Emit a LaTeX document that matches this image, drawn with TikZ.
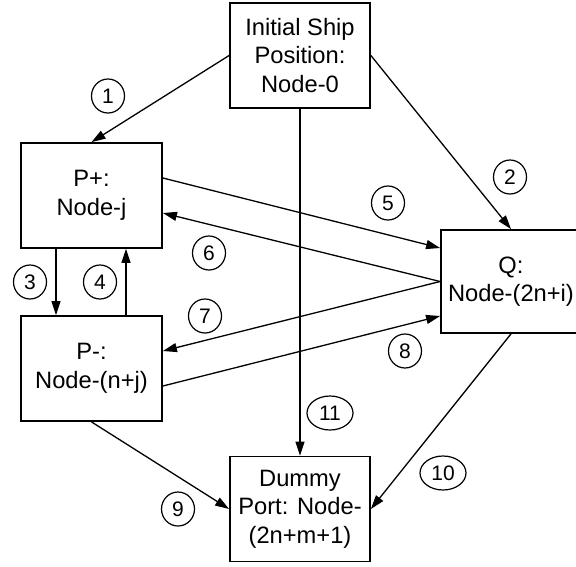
\documentclass[tikz,border=0pt]{standalone}
\usepackage{fontspec}
\setmainfont{Liberation Sans}
\usetikzlibrary{arrows.meta,shapes.geometric}

\begin{document}
\begin{tikzpicture}[x=1pt,y=-1pt,
        box/.style={draw,line width=1.8pt,minimum width=140pt,minimum height=105pt,
            inner sep=0pt,align=center,font=\fontsize{23.7}{28.5}\selectfont},
        num/.style={draw,ellipse,line width=1.2pt,minimum width=33pt,minimum height=34pt,
            inner sep=0pt,font=\fontsize{21}{24}\selectfont},
        numwide/.style={num,minimum width=46pt},
        arr/.style={-{Triangle[length=14pt,width=9pt]},line width=1.3pt}]
    \useasboundingbox (0,0) rectangle (576,566);
    % nodes of the network
    \node[box] (N0) at (300,55.5) {Initial Ship\\Position:\\Node-0};
    \node[box,minimum width=141pt] (Pp) at (91.5,195.5) {P+:\\Node-j};
    \node[box,minimum width=141pt] (Pm) at (91.5,368.5) {P-:\\Node-(n+j)};
    \node[box,minimum height=103pt] (Q) at (511,281.5) {Q:\\Node-(2n+i)};
    \node[box] (D) at (300,509) {Dummy\\Port: Node-\\(2n+m+1)};
    % arcs
    \draw[arr] (N0.west) -- (Pp.north);
    \draw[arr] (N0.east) -- (Q.north);
    \draw[arr] ([xshift=-35.5pt]Pp.south) -- ([xshift=-35.5pt]Pm.north);
    \draw[arr] ([xshift=34.5pt]Pm.north) -- ([xshift=34.5pt]Pp.south);
    \draw[arr] ([yshift=17.5pt]Pp.east) -- ([yshift=33.5pt]Q.west);
    \draw[arr] (Q.west) -- ([yshift=-17.5pt]Pp.east);
    \draw[arr] (Q.west) -- ([yshift=17.5pt]Pm.east);
    \draw[arr] ([yshift=-17.5pt]Pm.east) -- ([yshift=-34.5pt]Q.west);
    \draw[arr] (Pm.south) -- (D.west);
    \draw[arr] (Q.south) -- (D.east);
    \draw[arr] (N0.south) -- (D.north);
    % arc numbers
    \node[num] (c1) at (108,96) {1};
    \node[num] (c2) at (510,177) {2};
    \node[num] (c3) at (30,282) {3};
    \node[num] (c4) at (100,282) {4};
    \node[num] (c5) at (388,203) {5};
    \node[num] (c6) at (209,253) {6};
    \node[num] (c7) at (205,316) {7};
    \node[num] (c8) at (405,351) {8};
    \node[num] (c9) at (178,509) {9};
    \node[numwide] (c10) at (443,473) {10};
    \node[numwide] (c11) at (330,413) {11};
\end{tikzpicture}
\end{document}
